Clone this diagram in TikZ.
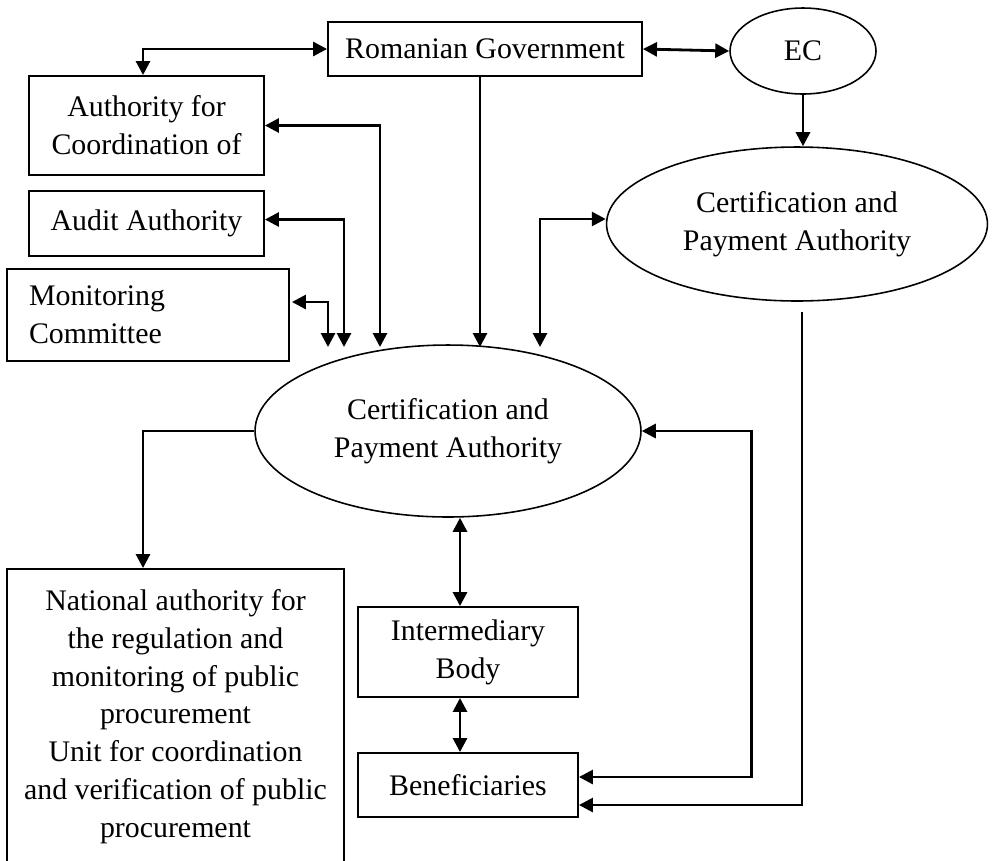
\documentclass[tikz,border=0pt]{standalone}
\usepackage{fontspec}
\setmainfont{Liberation Serif}
\usetikzlibrary{shapes.geometric, positioning, arrows.meta}

\begin{document}
\begin{tikzpicture}[x=0.02cm, y=-0.02cm, >={Triangle[length=0.28cm,width=0.28cm]},
    font=\fontsize{17}{21.5}\selectfont]
  \tikzstyle{box}=[draw, line width=1.1pt, align=center, inner sep=2pt]
  \tikzstyle{oval}=[draw, ellipse, line width=0.9pt, align=center, inner sep=0pt]
  \tikzstyle{link}=[line width=1.6pt]
  \clip (0,0) rectangle (996,860);
  % boxes and ovals
  \node[box, minimum width=6.28cm, minimum height=1.08cm] (gov) at (485,49) {Romanian Government};
  \node[oval, minimum width=2.92cm, minimum height=1.72cm] (ec) at (803,51) {EC};
  \node[box, minimum width=4.7cm, minimum height=1.98cm] (coord) at (146.5,125.5) {Authority for\\Coordination of};
  \node[box, minimum width=4.7cm, minimum height=1.3cm] (audit) at (146.5,223.5) {Audit Authority};
  \node[box, minimum width=5.64cm, minimum height=1.84cm, text width=4.76cm, align=left] (monit) at (148,315) {Monitoring\\Committee};
  \node[oval, minimum width=7.62cm, minimum height=3.08cm] (cpa1) at (797,224) {Certification and\\Payment Authority};
  \node[oval, minimum width=7.72cm, minimum height=3.44cm] (cpa2) at (448,431) {Certification and\\Payment Authority};
  \node[box, minimum width=6.74cm, minimum height=5.9cm] (natl) at (175.5,716.5) {National authority for\\the regulation and\\monitoring of public\\procurement\\Unit for coordination\\and verification of public\\procurement};
  \node[box, minimum width=4.4cm, minimum height=1.8cm] (inter) at (468,652) {Intermediary\\Body};
  \node[box, minimum width=4.4cm, minimum height=1.28cm] (benef) at (468,785) {Beneficiaries};
  % arrow ends above the lower oval
  \coordinate (t1) at (328,347);
  \coordinate (t2) at (344,347);
  \coordinate (t3) at (380,347);
  \coordinate (t4) at (480,347);
  \coordinate (t5) at (540,347);
  % connectors
  \draw[link,<->] (gov.east) -- (ec.west);
  \draw[link,<->] (gov.west) -| ([xshift=-0.07cm]coord.north);
  \draw[link,<->] (coord.east) -| (t3);
  \draw[link,<->] ([yshift=0.08cm]audit.east) -| (t2);
  \draw[link,<->] ([shift={(0.04cm,0.26cm)}]monit.east) -| (t1);
  \draw[link,->] (gov.south -| t4) -- (t4);
  \draw[link,<->] ([yshift=0.1cm]cpa1.west) -| (t5);
  \draw[link,->] (ec.south) -- (ec.south |- cpa1.north);
  \draw[link,->] ([shift={(0.1cm,-0.2cm)}]cpa1.south) |- ([yshift=-0.4cm]benef.east);
  \draw[link,<->] (cpa2.east) -- ++(110,0) |- ([yshift=0.16cm]benef.east);
  \draw[link,->] (cpa2.west) -| ([xshift=-0.65cm]natl.north);
  \draw[link,<->] ([xshift=-0.16cm]inter.north) -- ([xshift=-0.16cm]inter.north |- cpa2.south);
  \draw[link,<->] ([xshift=-0.16cm]inter.south) -- ([xshift=-0.16cm]benef.north);
\end{tikzpicture}
\end{document}
